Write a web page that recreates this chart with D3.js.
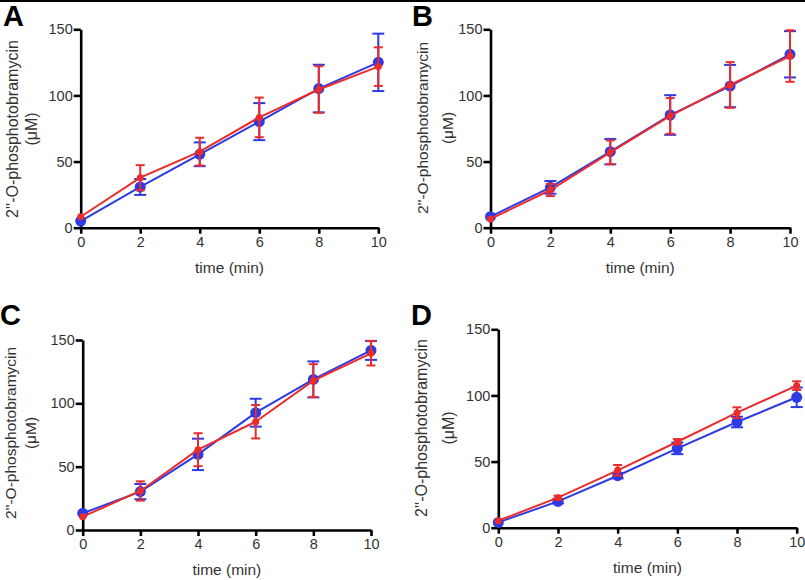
<!DOCTYPE html>
<html>
<head>
<meta charset="utf-8">
<script src="https://cdn.jsdelivr.net/npm/d3@7/dist/d3.min.js"></script>
<style>
  html, body { margin: 0; padding: 0; background: #fff; }
  svg { display: block; font-family: "Liberation Sans", Arial, sans-serif; }
</style>
</head>
<body>
<svg id="chart" width="805" height="580"></svg>
<script>
// ---- data ----
const times = [0, 2, 4, 6, 8, 10];
const xTicks = [0, 2, 4, 6, 8, 10];
const yTicks = [0, 50, 100, 150];
const panelLetters = ["A", "B", "C", "D"];

const aBlue    = [5, 30.8, 55.5, 80.2, 105.2, 125];
const aBlueErr = [0, 6, 9, 14, 18, 21.7];
const aRed     = [8.3, 37.8, 57.5, 83.4, 104.5, 121.8];
const aRedErr  = [0, 9.5, 10.5, 15, 17.6, 14.6];

const bBlue    = [8.3, 30.5, 57.5, 85.2, 107.1, 131.1];
const bBlueErr = [0, 4.8, 9.6, 15, 16, 17.5];
const bRed     = [6.6, 28.5, 57, 84.5, 107.9, 129.8];
const bRedErr  = [0, 4.6, 9, 13.5, 17.3, 19.5];

const cBlue    = [13.2, 30.3, 59.7, 92.6, 118.9, 141.8];
const cBlueErr = [0, 6, 12.4, 11, 14.2, 7.5];
const cRed     = [10.5, 30.8, 63.4, 85.5, 117.9, 139.5];
const cRedErr  = [0, 7.6, 13, 13.2, 13, 9.6];

const dBlue    = [4, 19.9, 39.3, 60, 79.9, 98.6];
const dBlueErr = [0, 1.5, 2, 4.4, 4, 7.4];
const dRed     = [5.3, 22.7, 43.4, 65, 87, 107.4];
const dRedErr  = [0, 1.5, 4, 2, 4, 3.3];

const yLabel1 = "2''-O-phosphotobramycin";
const yLabel2 = "(\u03BCM)";
const xLabel = "time (min)";

const BLUE = "#2e3be4";
const RED = "#ec2b2b";

// ---- layout (pixels) ----
const panels = [
  { letter: panelLetters[0], blue: aBlue, blueErr: aBlueErr, red: aRed, redErr: aRedErr,
    x0: 80.7, x1: 378.3, y0: 227.7, y1: 29.3, lx: 3, ly: 25.5, ylab1: 12, ylab2: 31.5, ylabY: 129, ylabFs: 16 },
  { letter: panelLetters[1], blue: bBlue, blueErr: bBlueErr, red: bRed, redErr: bRedErr,
    x0: 490.5, x1: 790, y0: 227.7, y1: 29.3, lx: 412, ly: 25.5, ylab1: 422, ylab2: 447, ylabY: 128, ylabFs: 15.5 },
  { letter: panelLetters[2], blue: cBlue, blueErr: cBlueErr, red: cRed, redErr: cRedErr,
    x0: 82.7, x1: 371, y0: 530, y1: 340, lx: 0, ly: 325, ylab1: 10.5, ylab2: 30, ylabY: 433, ylabFs: 15.5 },
  { letter: panelLetters[3], blue: dBlue, blueErr: dBlueErr, red: dRed, redErr: dRedErr,
    x0: 498.3, x1: 796.7, y0: 527.7, y1: 329.3, lx: 411, ly: 325, ylab1: 421, ylab2: 448, ylabY: 428, ylabFs: 16 }
];

const svg = d3.select("#chart");
svg.append("rect").attr("x", 0).attr("y", 0).attr("width", 805).attr("height", 2).attr("fill", "#000");

panels.forEach(p => {
  const x = d3.scaleLinear().domain([0, 10]).range([p.x0, p.x1]);
  const y = d3.scaleLinear().domain([0, 150]).range([p.y0, p.y1]);
  const g = svg.append("g");

  // panel letter
  g.append("text").attr("x", p.lx).attr("y", p.ly)
    .attr("font-size", 29).attr("font-weight", "bold").attr("fill", "#000")
    .text(p.letter);

  // axes
  const ax = g.append("g").attr("transform", `translate(0,${p.y0})`)
    .call(d3.axisBottom(x).tickValues(xTicks).tickSize(6).tickSizeOuter(0).tickPadding(3).tickFormat(d3.format("d")));
  const ay = g.append("g").attr("transform", `translate(${p.x0},0)`)
    .call(d3.axisLeft(y).tickValues(yTicks).tickSize(7).tickSizeOuter(0).tickPadding(1).tickFormat(d3.format("d")));
  [ax, ay].forEach(a => {
    a.select(".domain").attr("stroke", "#000").attr("stroke-width", 2.6);
    a.selectAll(".tick line").attr("stroke", "#000").attr("stroke-width", 2.6);
    a.selectAll(".tick text").attr("font-size", 14.5).attr("fill", "#333")
      .attr("font-family", "'Liberation Sans', Arial, sans-serif");
  });

  // axis labels
  g.append("text").attr("x", (p.x0 + p.x1) / 2).attr("y", p.y0 + 45)
    .attr("text-anchor", "middle").attr("font-size", 15.5).attr("fill", "#333").text(xLabel);
  g.append("text").attr("transform", `translate(${p.ylab1},${p.ylabY}) rotate(-90)`)
    .attr("text-anchor", "middle").attr("dominant-baseline", "central")
    .attr("font-size", p.ylabFs).attr("fill", "#333").text(yLabel1);
  g.append("text").attr("transform", `translate(${p.ylab2},${p.ylabY}) rotate(-90)`)
    .attr("text-anchor", "middle").attr("dominant-baseline", "central")
    .attr("font-size", p.ylabFs).attr("fill", "#333").text(yLabel2);

  const line = d3.line().x(d => x(d[0])).y(d => y(d[1]));

  function series(vals, errs, color, r, cap) {
    const data = times.map((t, i) => [t, vals[i], errs[i]]);
    g.append("path").datum(data).attr("d", line)
      .attr("fill", "none").attr("stroke", color).attr("stroke-width", 2);
    const eb = g.append("g");
    data.filter(d => d[2] > 0).forEach(d => {
      const cx = x(d[0]);
      eb.append("line").attr("x1", cx).attr("x2", cx).attr("y1", y(d[1] - d[2])).attr("y2", y(d[1] + d[2]))
        .attr("stroke", color).attr("stroke-width", 2);
      [d[1] - d[2], d[1] + d[2]].forEach(v => {
        eb.append("line").attr("x1", cx - cap / 2).attr("x2", cx + cap / 2).attr("y1", y(v)).attr("y2", y(v))
          .attr("stroke", color).attr("stroke-width", 2);
      });
    });
    g.append("g").selectAll("circle").data(data).join("circle")
      .attr("cx", d => x(d[0])).attr("cy", d => y(d[1])).attr("r", r).attr("fill", color);
  }
  series(p.blue, p.blueErr, BLUE, 5.5, 12);
  series(p.red, p.redErr, RED, 3.5, 9);
});
</script>
</body>
</html>
